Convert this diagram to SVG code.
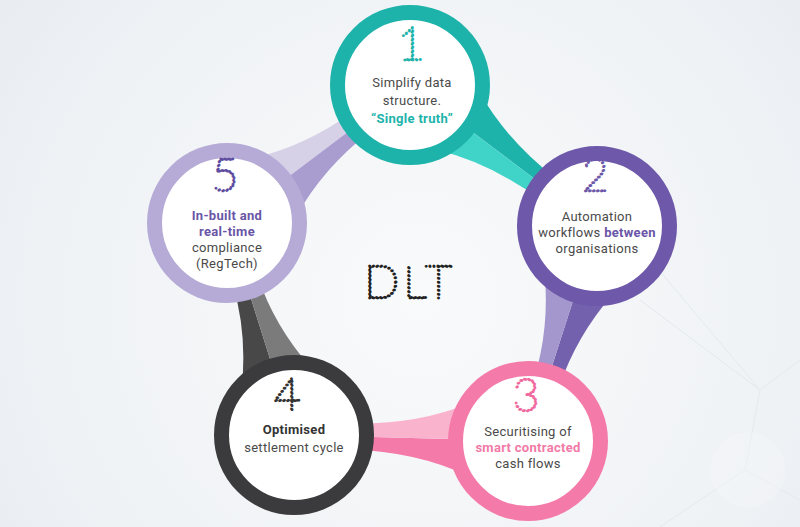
<svg xmlns="http://www.w3.org/2000/svg" width="800" height="527" viewBox="0 0 800 527">
<defs>
<radialGradient id="bg" cx="420" cy="300" r="620" gradientUnits="userSpaceOnUse">
<stop offset="0" stop-color="#f9fafb"/>
<stop offset="0.6" stop-color="#eff2f5"/>
<stop offset="1" stop-color="#e3e9ee"/>
</radialGradient>
<style>
.ring{fill:#ffffff;stroke-width:15}
.t{font-family:Roboto,"Liberation Sans",sans-serif;font-size:13px;letter-spacing:0.3px;fill:#4a4a4a;text-anchor:middle}
.b{font-weight:700}
.dig{font-family:Lato,Inter,sans-serif;font-weight:100;font-size:46px;fill:none;stroke-width:2.9;stroke-dasharray:0 4;stroke-linecap:round;text-anchor:middle}
.deco{fill:none;stroke:#e4e9ed;stroke-width:1}
</style>
</defs>
<rect width="800" height="527" fill="url(#bg)"/>
<g id="background-lines">
<path class="deco" d="M640 300 L760 390 L800 360 M760 390 L745 470 L800 500 M745 470 L660 527 M600 200 L760 390"/>
<circle cx="748" cy="470" r="38" fill="#f3f5f7" opacity="0.5"/>
</g>
<g id="connectors">
<g transform="translate(410,85) rotate(37)">
<path fill="#1db3aa" d="M60,-36 Q110,-14 174,-13 L174,0 L60,0 Z"/>
<path fill="#40d3c8" d="M60,36 Q110,14 174,13 L174,0 L60,0 Z"/>
</g>
<g transform="translate(597,226) rotate(107.8)">
<path fill="#7461ae" d="M60,-36 Q110,-14 166,-13 L166,0 L60,0 Z"/>
<path fill="#a497cd" d="M60,36 Q110,14 166,13 L166,0 L60,0 Z"/>
</g>
<g transform="translate(528,441) rotate(181.5)">
<path fill="#f47ba9" d="M60,-36 Q110,-14 174,-13 L174,0 L60,0 Z"/>
<path fill="#f9b3cd" d="M60,36 Q110,14 174,13 L174,0 L60,0 Z"/>
</g>
<g transform="translate(294,435) rotate(-107.5)">
<path fill="#484849" d="M60,-36 Q110,-14 162,-13 L162,0 L60,0 Z"/>
<path fill="#7b7b7c" d="M60,36 Q110,14 162,13 L162,0 L60,0 Z"/>
</g>
<g transform="translate(227,223) rotate(-37)">
<path fill="#d7d1e8" d="M60,-36 Q110,-14 169,-13 L169,0 L60,0 Z"/>
<path fill="#a99ccf" d="M60,36 Q110,14 169,13 L169,0 L60,0 Z"/>
</g>
</g>
<g id="node1">
<circle class="ring" cx="410" cy="85" r="72.5" stroke="#1db3aa"/>
<text class="dig" x="411" y="60" stroke="#1db3aa">1</text>
<text class="t" x="412" y="87">Simplify data</text>
<text class="t" x="412" y="105">structure.</text>
<text class="t b" x="412" y="123" style="fill:#1db3aa">“Single truth”</text>
</g>
<g id="node2">
<circle class="ring" cx="597" cy="226" r="72.5" stroke="#6d58a9"/>
<text class="dig" x="595" y="191" stroke="#6d58a9">2</text>
<text class="t" x="597" y="221">Automation</text>
<text class="t" x="597" y="237">workflows <tspan class="b" style="fill:#6a55a8">between</tspan></text>
<text class="t" x="597" y="253">organisations</text>
</g>
<g id="node3">
<circle class="ring" cx="528" cy="441" r="72.5" stroke="#f47ba9"/>
<text class="dig" x="526" y="411" stroke="#f06a9f">3</text>
<text class="t" x="528" y="436">Securitising of</text>
<text class="t b" x="528" y="452" style="fill:#f27aa7">smart contracted</text>
<text class="t" x="528" y="468">cash flows</text>
</g>
<g id="node4">
<circle class="ring" cx="294" cy="435" r="72.5" stroke="#3b3b3d"/>
<text class="dig" x="287" y="411" stroke="#333333">4</text>
<text class="t b" x="294" y="434" style="fill:#333333">Optimised</text>
<text class="t" x="294" y="452">settlement cycle</text>
</g>
<g id="node5">
<circle class="ring" cx="227" cy="223" r="72.5" stroke="#b6abd6"/>
<text class="dig" x="225" y="191" stroke="#5e4ea0">5</text>
<text class="t b" x="227" y="220" style="fill:#6a56a6">In-built and</text>
<text class="t b" x="227" y="236" style="fill:#6a56a6">real-time</text>
<text class="t" x="227" y="252">compliance</text>
<text class="t" x="227" y="268">(RegTech)</text>
</g>
<g id="center-label">
<text class="dig" x="410" y="298" stroke="#222222" style="letter-spacing:4px">DLT</text>
</g>
</svg>
